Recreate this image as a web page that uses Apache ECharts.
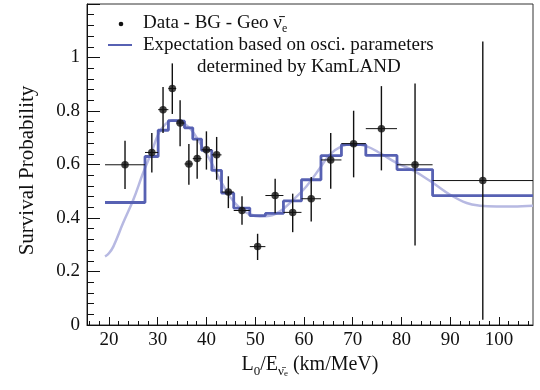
<!DOCTYPE html>
<html>
<head>
<meta charset="utf-8">
<script src="https://cdn.jsdelivr.net/npm/echarts@6/dist/echarts.min.js"></script>
<style>
  html, body { margin: 0; padding: 0; background: #fff; }
  #chart { width: 540px; height: 390px; }
</style>
</head>
<body>
<div id="chart"></div>
<script>
// KamLAND-style survival probability vs L0/E

// bin edges (km/MeV), 20 bins
var binEdges = [19.2, 27.4, 30.1, 32.2, 33.8, 35.5, 37.2, 39.0, 41.1, 43.1, 45.6,
                48.9, 52.1, 55.8, 59.5, 63.5, 67.7, 72.7, 79.1, 86.4, 107];

// data points (Data - BG - Geo)
var dataX = [23.3, 28.8, 31.1, 33.0, 34.6, 36.4, 38.1, 40.0, 42.1, 44.5,
             47.3, 50.5, 54.1, 57.7, 61.5, 65.5, 70.2, 75.9, 82.8, 96.7];
var dataY = [0.599, 0.645, 0.805, 0.884, 0.755, 0.602, 0.622, 0.655, 0.636, 0.497,
             0.428, 0.293, 0.484, 0.421, 0.472, 0.617, 0.678, 0.734, 0.599, 0.540];
var errLow = [0.508, 0.570, 0.718, 0.789, 0.668, 0.524, 0.547, 0.581, 0.543, 0.437,
              0.375, 0.243, 0.418, 0.347, 0.387, 0.509, 0.552, 0.578, 0.297, 0.020];
var errHigh = [0.689, 0.718, 0.890, 0.978, 0.840, 0.677, 0.693, 0.724, 0.703, 0.556,
               0.481, 0.341, 0.547, 0.491, 0.553, 0.718, 0.801, 0.893, 0.903, 1.060];

// binned expectation (step histogram)
var expectY = [0.458, 0.630, 0.728, 0.764, 0.762, 0.737, 0.695, 0.653, 0.578, 0.493,
               0.437, 0.409, 0.417, 0.464, 0.543, 0.633, 0.674, 0.634, 0.581, 0.484];

// unbinned expectation (light curve)
var curveX = [19.2, 20.0, 20.9, 22.9, 25.0, 27.0, 28.8, 30.1, 31.5, 33.2, 34.6, 36.6, 38.7,
              40.7, 42.8, 44.8, 46.9, 48.9, 51.0, 53.0, 55.1, 57.8, 60.5, 63.3, 65.3, 67.7,
              70.1, 72.9, 75.6, 79.0, 82.4, 86.5, 90.0, 93.4, 96.1, 99.5, 102.9, 107];
var curveY = [0.256, 0.268, 0.293, 0.381, 0.468, 0.568, 0.649, 0.712, 0.749, 0.765, 0.761, 0.736, 0.680,
              0.618, 0.543, 0.480, 0.437, 0.414, 0.406, 0.408, 0.425, 0.468, 0.518, 0.587, 0.637, 0.668,
              0.677, 0.668, 0.643, 0.606, 0.578, 0.531, 0.487, 0.456, 0.446, 0.443, 0.443, 0.446];

// axis ticks
var xMajorTicks = [20, 30, 40, 50, 60, 70, 80, 90, 100];
var xMinorTicks = [16, 18, 22, 24, 26, 28, 32, 34, 36, 38, 42, 44, 46, 48, 52, 54, 56, 58,
                   62, 64, 66, 68, 72, 74, 76, 78, 82, 84, 86, 88, 92, 94, 96, 98, 102, 104, 106];

var X_MIN = 15.5, X_MAX = 107;
var FONT = 'Liberation Serif';
var STEP_COLOR = '#5761b3';
var CURVE_COLOR = '#b7b9e2';

var chart = echarts.init(document.getElementById('chart'));

// build series data from the arrays
var stepData = binEdges.map(function(e, i) {
  return [e, expectY[Math.min(i, expectY.length - 1)]];
});
var curveData = curveX.map(function(x, i) { return [x, curveY[i]]; });
var pointData = dataX.map(function(x, i) { return [x, dataY[i]]; });
var errData = dataX.map(function(x, i) {
  return [x, dataY[i], errLow[i], errHigh[i], binEdges[i], binEdges[i + 1]];
});

var subRich = {
  n: { fontFamily: FONT, fontSize: 20, color: '#111', lineHeight: 26 },
  s: { fontFamily: FONT, fontSize: 13, color: '#111', lineHeight: 12, verticalAlign: 'bottom' },
  ss: { fontFamily: FONT, fontSize: 9, color: '#111', lineHeight: 4, verticalAlign: 'bottom' }
};

chart.setOption({
  animation: false,
  grid: {
    left: 87, right: 7, top: 4, bottom: 65,
    show: true, borderColor: '#333', borderWidth: 1, backgroundColor: 'transparent'
  },
  xAxis: [{
    type: 'value', min: X_MIN, max: X_MAX, position: 'bottom',
    name: '{n|L}{s|0}{n|/E}{s|\u03bd\u0304}{ss|e}{n| (km/MeV)}',
    nameLocation: 'middle', nameGap: 25,
    nameTextStyle: { rich: subRich },
    axisLine: { lineStyle: { color: '#111', width: 1 } },
    axisTick: { inside: true, length: 8, customValues: xMajorTicks, lineStyle: { color: '#111' } },
    axisLabel: { customValues: xMajorTicks, margin: 6, fontFamily: FONT, fontSize: 19, color: '#111' },
    splitLine: { show: false }
  }, {
    type: 'value', min: X_MIN, max: X_MAX, position: 'bottom',
    axisLine: { show: false },
    axisTick: { inside: true, length: 4, customValues: xMinorTicks, lineStyle: { color: '#111' } },
    axisLabel: { show: false },
    splitLine: { show: false }
  }],
  yAxis: {
    type: 'value', min: 0, max: 1.2, interval: 0.2,
    name: 'Survival Probability', nameLocation: 'middle', nameGap: 49,
    nameTextStyle: { fontFamily: FONT, fontSize: 21, color: '#111', padding: [0, 0, 0, -12] },
    axisLine: { show: true, lineStyle: { color: '#111', width: 1 } },
    axisTick: { inside: true, length: 13, lineStyle: { color: '#111' } },
    minorTick: { show: true, splitNumber: 5, length: 7, lineStyle: { color: '#111' } },
    axisLabel: {
      margin: 7, fontFamily: FONT, fontSize: 19, color: '#111', showMaxLabel: false,
      formatter: function(v) { return String(Math.round(v * 10) / 10); }
    },
    splitLine: { show: false }
  },
  series: [
    {
      name: 'curve', type: 'line', data: curveData, smooth: 0.4, showSymbol: false,
      lineStyle: { color: CURVE_COLOR, width: 2.5 }, z: 1, silent: true
    },
    {
      name: 'Expectation', type: 'line', data: stepData, step: 'end', showSymbol: false,
      lineStyle: { color: STEP_COLOR, width: 2.8 }, z: 2, silent: true
    },
    {
      name: 'errors', type: 'custom', data: errData, z: 3, clip: true,
      renderItem: function(params, api) {
        var c = api.coord([api.value(0), api.value(1)]);
        var lo = api.coord([api.value(0), api.value(2)]);
        var hi = api.coord([api.value(0), api.value(3)]);
        var l = api.coord([api.value(4), api.value(1)]);
        var r = api.coord([api.value(5), api.value(1)]);
        return {
          type: 'group',
          children: [
            { type: 'line', shape: { x1: c[0], y1: lo[1], x2: c[0], y2: hi[1] }, style: { stroke: '#111', lineWidth: 1.4 } },
            { type: 'line', shape: { x1: l[0], y1: c[1], x2: r[0], y2: c[1] }, style: { stroke: '#111', lineWidth: 1 } }
          ]
        };
      }
    },
    {
      name: 'Data - BG - Geo', type: 'scatter', data: pointData, symbol: 'circle', symbolSize: 7.5,
      itemStyle: { color: '#111' }, z: 4
    }
  ],
  graphic: [
    { type: 'circle', shape: { cx: 121, cy: 24, r: 2.3 }, style: { fill: '#111' } },
    {
      type: 'text', x: 143, y: 23,
      style: {
        text: '{n|Data - BG - Geo }{n|\u03bd\u0304}{s|e}',
        verticalAlign: 'middle',
        rich: {
          n: { fontFamily: FONT, fontSize: 19, fill: '#111', lineHeight: 24 },
          s: { fontFamily: FONT, fontSize: 12, fill: '#111', lineHeight: 10, verticalAlign: 'bottom' }
        }
      }
    },
    { type: 'line', shape: { x1: 108, y1: 45, x2: 132, y2: 45 }, style: { stroke: STEP_COLOR, lineWidth: 2 } },
    {
      type: 'text', x: 143, y: 45,
      style: { text: 'Expectation based on osci. parameters', verticalAlign: 'middle',
               font: '19px "' + FONT + '"', fill: '#111' }
    },
    {
      type: 'text', x: 197, y: 67,
      style: { text: 'determined by KamLAND', verticalAlign: 'middle',
               font: '19px "' + FONT + '"', fill: '#111' }
    }
  ]
});
</script>
</body>
</html>
